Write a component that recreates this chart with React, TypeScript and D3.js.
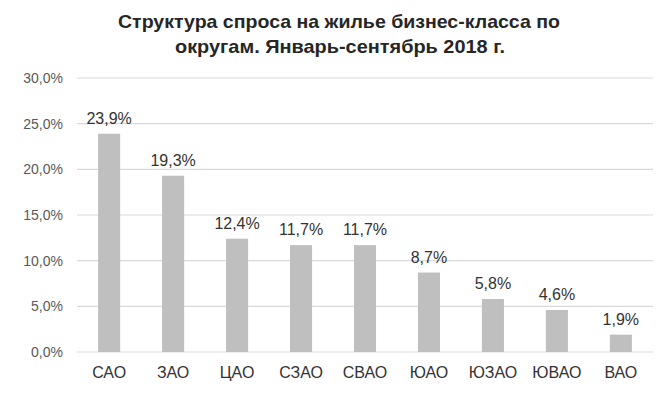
import React from "react";
import * as d3 from "d3";

const categories = ["САО", "ЗАО", "ЦАО", "СЗАО", "СВАО", "ЮАО", "ЮЗАО", "ЮВАО", "ВАО"];
const values = [23.9, 19.3, 12.4, 11.7, 11.7, 8.7, 5.8, 4.6, 1.9];
const yTicks = [0, 5, 10, 15, 20, 25, 30];
const titleLines = ["Структура  спроса на жилье бизнес-класса по", "округам. Январь-сентябрь 2018 г."];

const fmt = (v: number) => v.toFixed(1).replace(".", ",") + "%";

export default function App() {
  const W = 660, H = 395;
  const x = d3.scaleBand<string>().domain(categories).range([77, 653]).paddingInner(0.655).paddingOuter(0.33);
  const y = d3.scaleLinear().domain([0, 30]).range([352, 78]);
  const font = "'Liberation Sans', Arial, sans-serif";
  return (
    <svg width={W} height={H} style={{ position: "absolute", left: 0, top: 0, background: "#fff" }}>
      <text x={339} y={28} textAnchor="middle" fontFamily={font} fontWeight="bold" fontSize={19} fill="#262626" textLength={442} lengthAdjust="spacingAndGlyphs">{titleLines[0]}</text>
      <text x={340} y={53} textAnchor="middle" fontFamily={font} fontWeight="bold" fontSize={19} fill="#262626" textLength={330} lengthAdjust="spacingAndGlyphs">{titleLines[1]}</text>
      {yTicks.map((t) => (
        <g key={t}>
          <line x1={77} x2={653} y1={y(t)} y2={y(t)} stroke="#d9d9d9" strokeWidth={1.2} />
          <text x={63} y={y(t) + 5} textAnchor="end" fontFamily={font} fontSize={14} fill="#595959">{fmt(t)}</text>
        </g>
      ))}
      {categories.map((c, i) => (
        <g key={c}>
          <rect x={x(c)} y={y(values[i])} width={x.bandwidth()} height={y(0) - y(values[i])} fill="#bfbfbf" />
          <text x={(x(c) as number) + x.bandwidth() / 2} y={y(values[i]) - 10} textAnchor="middle" fontFamily={font} fontSize={16} fill="#333333">{fmt(values[i])}</text>
          <text x={(x(c) as number) + x.bandwidth() / 2} y={378} textAnchor="middle" fontFamily={font} fontSize={16} fill="#333333">{c}</text>
        </g>
      ))}
    </svg>
  );
}
